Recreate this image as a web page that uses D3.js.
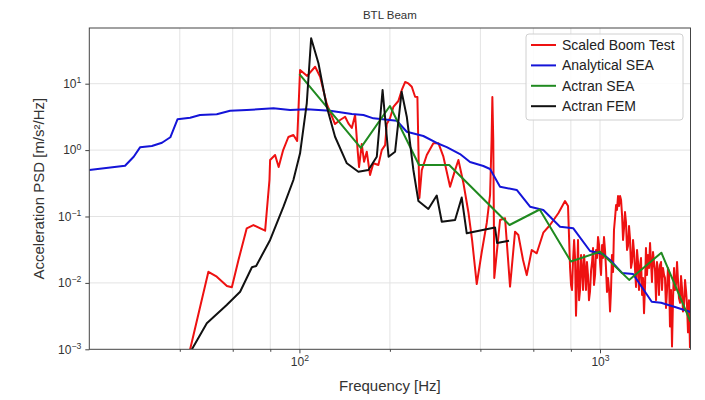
<!DOCTYPE html>
<html>
<head>
<meta charset="utf-8">
<script src="https://cdnjs.cloudflare.com/ajax/libs/d3/7.8.5/d3.min.js"></script>
<style>
  body { margin: 0; background: #fff; }
  svg { font-family: "Liberation Sans", Arial, sans-serif; }
</style>
</head>
<body>
<div id="chart"></div>
<script>
// Scaled Boom Test (red)
const boomFreq = [43.3, 49.8, 53.1, 57.4, 59.6, 62.7, 66.8, 70.3, 76.9, 79.5, 79.9, 83.0, 85.3, 88.3, 91.9, 95.5, 98.3,
  100.5, 106.1, 112.8, 117.2, 123.3, 131.4, 136.6, 141.9, 145.5, 149.4, 153.2, 156.2, 157.9, 161.2, 164.1, 167.5,
  171.8, 176.2, 183.1, 187.9, 192.8, 195.3, 200.3, 205.4, 213.4, 219.1, 224.7, 230.4, 236.5, 242.6, 246.9, 250.7,
  255.3, 265.3, 279.0, 290.0, 301.3, 317.1, 329.5, 338.0, 351.2, 364.8, 375.3, 389.0, 404.2, 420.0, 430.8, 435.8,
  438.4, 441.5, 444.9, 465.0, 483.2, 502.0, 521.6, 535.0, 554.6, 570.5, 592.8, 615.9, 647.7, 681.9, 726.6, 764.9,
  782.7,
  795, 801, 807, 813, 820, 826, 832, 839, 845, 852, 858, 865, 871, 878, 885, 892, 898, 905, 912, 919,
  926, 934, 941, 948, 955, 963, 970, 977, 985, 993, 1000, 1008, 1016, 1023, 1031, 1039, 1047, 1055, 1063, 1072,
  1080, 1088, 1096, 1105, 1113, 1122, 1131, 1139, 1148, 1157, 1166, 1175, 1184, 1193, 1202, 1211, 1220, 1230,
  1239, 1249, 1258, 1268, 1278, 1288, 1298, 1308, 1318, 1328, 1338, 1348, 1359, 1369, 1380, 1390, 1401, 1412,
  1422, 1433, 1444, 1456, 1467, 1478, 1489, 1501, 1512, 1524, 1536, 1547, 1559, 1571, 1583, 1596, 1608, 1620,
  1633, 1645, 1658, 1671, 1683, 1696, 1709, 1723, 1736, 1749, 1763, 1776, 1790, 1804, 1817, 1831, 1846, 1860,
  1874, 1888, 1903, 1918, 1932, 1947, 1962, 1977, 1992];
const boomPsd = [0.001, 0.0147, 0.0124, 0.0090, 0.0086, 0.0221, 0.0664, 0.0744, 0.0611, 0.355, 0.709, 0.844, 0.556,
  1.00, 1.575, 1.69, 1.37, 16.1, 13.1, 18.0, 12.75, 4.95, 2.47, 2.84, 3.18, 2.53, 2.15, 3.38, 1.00, 0.556, 1.235,
  0.669, 0.946, 0.422, 0.633, 0.596, 1.00, 1.19, 2.47, 3.04, 4.46, 5.49, 8.04, 10.6, 10.1, 9.0, 6.37, 6.30, 0.190,
  0.50, 0.844, 1.27, 1.27, 0.795, 0.281, 0.50, 0.709, 0.32, 0.117, 0.0443, 0.0096, 0.0292, 0.080, 0.211, 1.42,
  6.30, 1.42, 0.0119, 0.0886, 0.094, 0.0088, 0.059, 0.0526, 0.0221, 0.0131, 0.0313, 0.0279, 0.057, 0.0744, 0.112,
  0.171, 0.144,
  0.0168, 0.0093, 0.0078, 0.0206, 0.0443, 0.0237, 0.0032, 0.0119, 0.0443, 0.0055, 0.0078, 0.0263, 0.0168, 0.0078,
  0.0263, 0.0156, 0.0078, 0.0206, 0.0132, 0.0055, 0.0073, 0.0156, 0.0206, 0.0335, 0.0093, 0.0132, 0.0313, 0.0237,
  0.0491, 0.0372, 0.0206, 0.0132, 0.0372, 0.0237, 0.0491, 0.0313, 0.0168, 0.0073, 0.0119, 0.0078, 0.0037, 0.0078,
  0.0263, 0.0146, 0.0626, 0.095, 0.149, 0.1253, 0.2035, 0.1439, 0.2035, 0.1772, 0.105, 0.0443, 0.0671, 0.1169,
  0.0826, 0.0313, 0.0359, 0.0719, 0.0475, 0.0168, 0.0206, 0.0443, 0.0292, 0.0156, 0.0087, 0.0313, 0.0206, 0.0078,
  0.0180, 0.0237, 0.0066, 0.0119, 0.0035, 0.0093, 0.0335, 0.0132, 0.0263, 0.0168, 0.0399, 0.0206, 0.0103, 0.0292,
  0.0206, 0.0156, 0.0055, 0.0206, 0.0156, 0.0066, 0.0186, 0.0206, 0.0078, 0.0168, 0.0132, 0.0119, 0.0042, 0.0078,
  0.0168, 0.0146, 0.0022, 0.0078, 0.0011, 0.0055, 0.0168, 0.0078, 0.0096, 0.0206, 0.0111, 0.0059, 0.0050, 0.0127,
  0.0084, 0.0037, 0.0045, 0.0111, 0.0078, 0.0047, 0.0018, 0.0055, 0.00105];

// Analytical SEA (blue)
const seaFreq = [20, 26.3, 28.1, 29.5, 32.3, 34.9, 37.2, 39.3, 43.3, 46.7, 53.1, 58.8, 66.8, 82, 93.1, 105.8, 126.5,
  149.4, 163.3, 176.2, 210.9, 227.6, 258.4, 286.3, 309.2, 342.2, 369.5, 409.2, 430.8, 465, 528.4, 585.1, 647.7,
  736.2, 815.1, 926.4, 1023, 1080, 1184, 1288, 1486, 1596, 1776, 2000];
const seaPsd = [0.502, 0.582, 0.795, 1.10, 1.15, 1.29, 1.56, 2.91, 3.08, 3.38, 3.46, 3.92, 4.02, 4.26, 4.02, 4.12,
  3.92, 3.50, 3.38, 3.01, 2.77, 1.89, 1.63, 1.28, 1.11, 0.873, 0.662, 0.576, 0.519, 0.281, 0.251, 0.1405, 0.1253,
  0.0702, 0.0664, 0.0302, 0.0272, 0.0221, 0.0141, 0.0136, 0.00521, 0.00503, 0.00434, 0.00365];

// Actran SEA (green)
const actranSeaFreq = [100, 160, 200, 250, 315, 500, 630, 800, 1000, 1250, 1600, 2000];
const actranSeaPsd = [13.9, 1.08, 4.62, 0.596, 0.596, 0.0745, 0.1275, 0.021, 0.0295, 0.0111, 0.0285, 0.0026];

// Actran FEM (black)
const femFreq = [43.9, 49.2, 57.3, 63.5, 69.5, 71.8, 79.9, 88.5, 95.5, 100.5, 105.8, 109.4, 115.7, 123.3, 131.4,
  143.8, 157.1, 169.6, 180.9, 189.1, 198, 208.1, 218.8, 227.6, 239.4, 248.8, 268.5, 286.3, 297.6, 329.5, 346.7,
  360.3, 447.5, 454.5, 498.2];
const femPsd = [0.001, 0.00246, 0.00465, 0.00737, 0.0172, 0.0180, 0.0443, 0.1405, 0.3545, 0.895, 5.07, 48.3, 20.3,
  4.50, 1.59, 0.633, 0.473, 0.502, 0.795, 8.04, 0.795, 0.946, 7.58, 3.18, 0.502, 0.171, 0.130, 0.207, 0.0835,
  0.0886, 0.193, 0.0558, 0.0683, 0.0399, 0.0432];

const seriesNames = ['Scaled Boom Test', 'Analytical SEA', 'Actran SEA', 'Actran FEM'];
const seriesColors = ['#ee1111', '#1414d8', '#208a20', '#111111'];
const xMajorTicks = [100, 1000];
const xMinorTicks = [40, 60, 80, 200, 400, 600, 800];
const yTicks = [1e-3, 1e-2, 1e-1, 1, 10];
const xExponents = ['2', '3'];
const yExponents = ['\u22123', '\u22122', '\u22121', '0', '1'];

const margin = { top: 28, right: 14.5, bottom: 50.7, left: 89.3 };
const width = 705 - margin.left - margin.right;
const height = 400 - margin.top - margin.bottom;

const root = d3.select('#chart')
  .append('svg')
  .attr('width', 705)
  .attr('height', 400);

const svg = root.append('g')
  .attr('transform', `translate(${margin.left},${margin.top})`);

const x = d3.scaleLog().domain([20, 2000]).range([0, width]);
const y = d3.scaleLog().domain([1e-3, 69]).range([height, 0]);

// grid
svg.append('g').selectAll('line')
  .data(xMajorTicks.concat(xMinorTicks))
  .enter().append('line')
  .attr('x1', d => x(d)).attr('x2', d => x(d))
  .attr('y1', 0).attr('y2', height)
  .attr('stroke', '#e3e3e3').attr('stroke-width', 1);

svg.append('g').selectAll('line')
  .data(yTicks.slice(1))
  .enter().append('line')
  .attr('x1', 0).attr('x2', width)
  .attr('y1', d => y(d)).attr('y2', d => y(d))
  .attr('stroke', '#e3e3e3').attr('stroke-width', 1);

// curves
const clip = svg.append('clipPath').attr('id', 'plotClip');
clip.append('rect').attr('width', width).attr('height', height);

const line = d3.line()
  .x(d => x(d[0]))
  .y(d => y(d[1]));

const seriesData = [
  d3.zip(boomFreq, boomPsd),
  d3.zip(seaFreq, seaPsd),
  d3.zip(actranSeaFreq, actranSeaPsd),
  d3.zip(femFreq, femPsd)
];

svg.append('g').attr('clip-path', 'url(#plotClip)')
  .selectAll('path')
  .data(seriesData)
  .enter().append('path')
  .attr('fill', 'none')
  .attr('stroke', (d, i) => seriesColors[i])
  .attr('stroke-width', 2)
  .attr('stroke-linejoin', 'round')
  .attr('d', line);

// axes
function expLabel(text, exp) {
  text.text('10');
  text.append('tspan')
    .attr('dy', '-0.55em')
    .attr('font-size', '0.72em')
    .text(exp);
}

const xAxis = svg.append('g')
  .attr('transform', `translate(0,${height})`)
  .call(d3.axisBottom(x).tickValues(xMajorTicks).tickSize(4).tickPadding(4).tickFormat(() => ''));
xAxis.selectAll('.tick text').each(function(d, i) {
  expLabel(d3.select(this), xExponents[i]);
});

svg.append('g')
  .attr('transform', `translate(0,${height})`)
  .call(d3.axisBottom(x).tickValues(xMinorTicks).tickSize(2.5).tickFormat(() => ''));

const yAxis = svg.append('g')
  .call(d3.axisLeft(y).tickValues(yTicks).tickSize(4).tickPadding(4).tickFormat(() => ''));
yAxis.selectAll('.tick text').each(function(d, i) {
  expLabel(d3.select(this), yExponents[i]);
});

svg.selectAll('.domain').remove();
svg.selectAll('.tick line').attr('stroke', '#444');
svg.selectAll('.tick text').attr('font-size', 12).attr('fill', '#333')
  .attr('font-family', '"Liberation Sans", Arial, sans-serif');

svg.append('rect')
  .attr('width', width).attr('height', height)
  .attr('fill', 'none').attr('stroke', '#444').attr('stroke-width', 1);

// titles
root.append('text')
  .attr('x', margin.left + width / 2).attr('y', 19)
  .attr('text-anchor', 'middle')
  .attr('font-size', 11.5).attr('fill', '#333')
  .text('BTL Beam');

root.append('text')
  .attr('x', margin.left + width / 2).attr('y', 391)
  .attr('text-anchor', 'middle')
  .attr('font-size', 15).attr('fill', '#333')
  .text('Frequency [Hz]');

root.append('text')
  .attr('transform', `translate(44,${margin.top + height / 2}) rotate(-90)`)
  .attr('text-anchor', 'middle')
  .attr('font-size', 15).attr('fill', '#333')
  .text('Acceleration PSD [m/s\u00b2/Hz]');

// legend
const legend = root.append('g').attr('transform', 'translate(526,34)');
legend.append('rect')
  .attr('width', 157).attr('height', 86).attr('rx', 3)
  .attr('fill', '#fff').attr('fill-opacity', 0.85)
  .attr('stroke', '#d0d0d0');

const items = legend.selectAll('g')
  .data(seriesNames)
  .enter().append('g')
  .attr('transform', (d, i) => `translate(0,${11 + i * 20.4})`);
items.append('line')
  .attr('x1', 5).attr('x2', 30)
  .attr('stroke', (d, i) => seriesColors[i])
  .attr('stroke-width', 2);
items.append('text')
  .attr('x', 36).attr('dy', '0.35em')
  .attr('font-size', 14).attr('fill', '#222')
  .text(d => d);
</script>
</body>
</html>
